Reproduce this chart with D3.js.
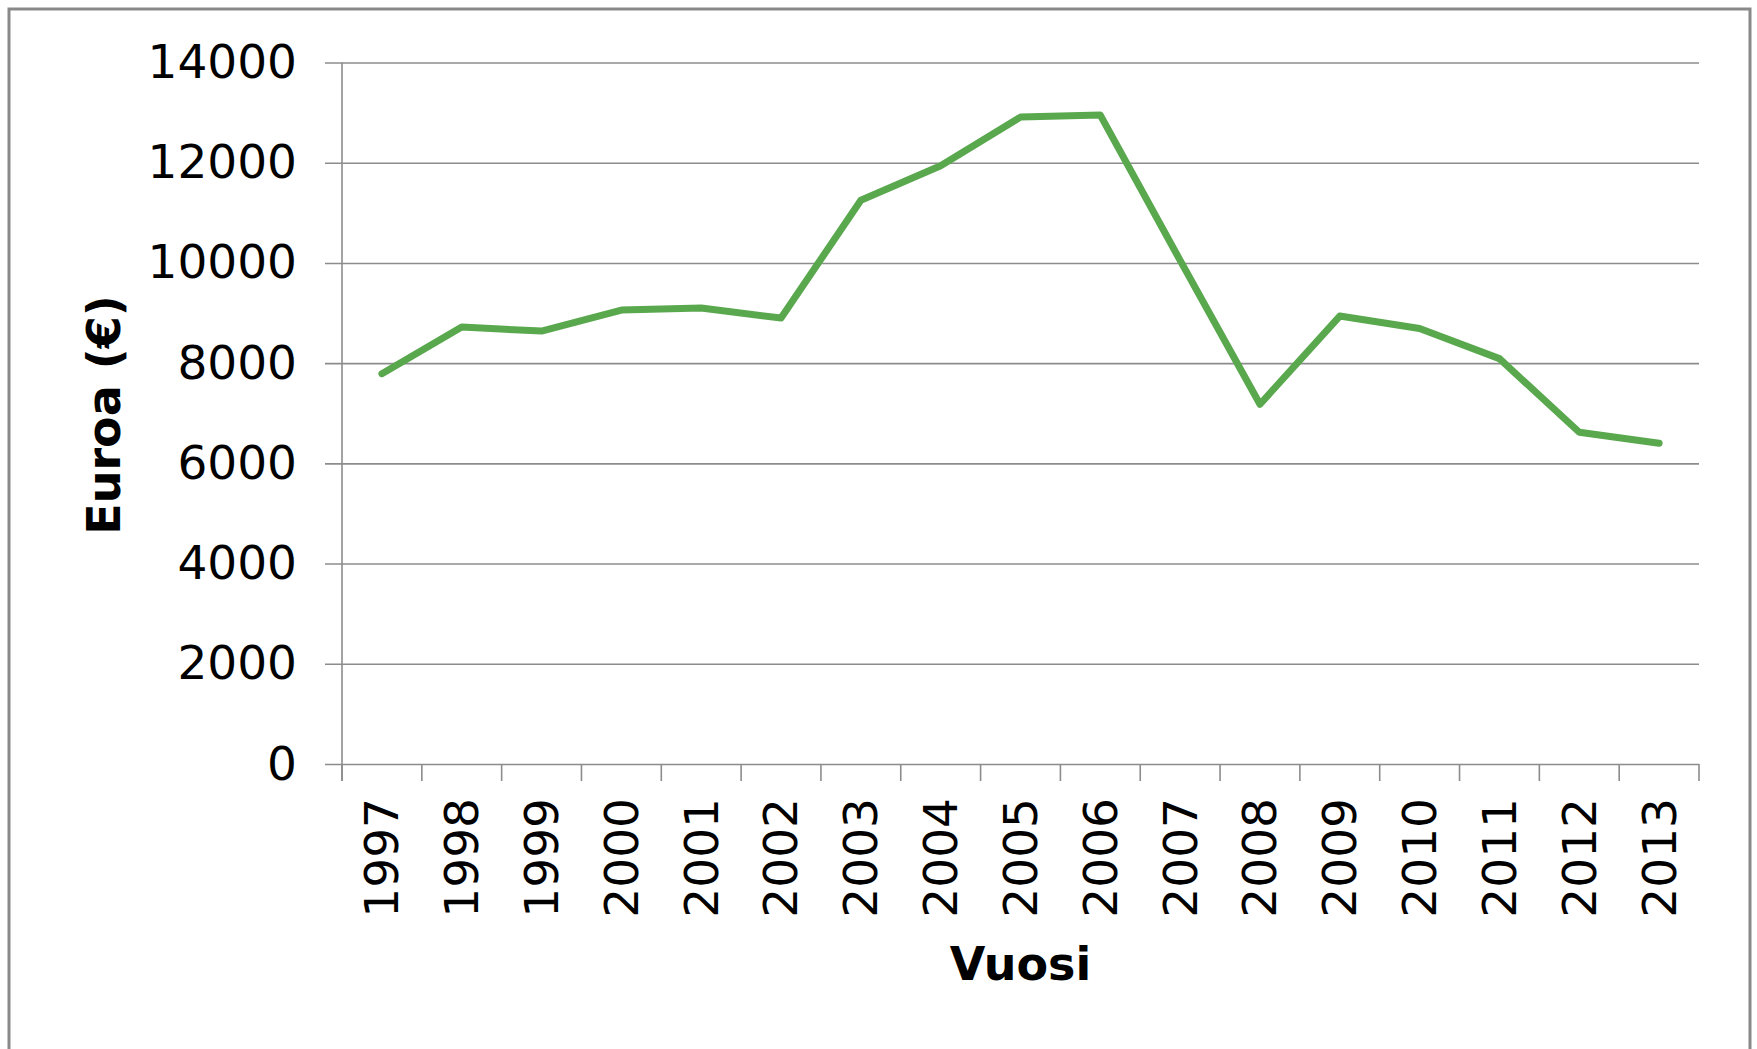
<!DOCTYPE html>
<html>
<head>
<meta charset="utf-8">
<script src="https://cdn.jsdelivr.net/npm/d3@7/dist/d3.min.js"></script>
<style>
  html, body { margin: 0; padding: 0; background: #fff; }
  svg { display: block; }
</style>
</head>
<body>
<script>
const years = ["1997","1998","1999","2000","2001","2002","2003","2004","2005","2006","2007","2008","2009","2010","2011","2012","2013"];
const values = [7790, 8720, 8640, 9060, 9100, 8900, 11250, 11940, 12910, 12950, 10050, 7180, 8940, 8690, 8090, 6620, 6400];
const yTicks = [0, 2000, 4000, 6000, 8000, 10000, 12000, 14000];
const xTitle = "Vuosi";
const yTitle = "Euroa (€)";

const W = 1757, H = 1049;
const plotL = 342, plotR = 1699, plotT = 62.5, plotB = 764;

const svg = d3.select("body").append("svg").attr("width", W).attr("height", H);

svg.append("rect")
  .attr("x", 9).attr("y", 9).attr("width", 1741).attr("height", 1060)
  .attr("fill", "#fff").attr("stroke", "#898989").attr("stroke-width", 3);

const x = d3.scaleBand().domain(years).range([plotL, plotR]).padding(0);
const y = d3.scaleLinear().domain([0, 14000]).range([plotB, plotT]);

const font = "'DejaVu Sans', Verdana, sans-serif";

// gridlines + y axis
const yAxis = d3.axisLeft(y).tickValues(yTicks).tickSize(17).tickPadding(28).tickFormat(d3.format("d"));
const gy = svg.append("g").attr("transform", `translate(${plotL},0)`).call(yAxis);
gy.select(".domain").remove();
gy.selectAll(".tick line").attr("stroke", "#8c8c8c").attr("stroke-width", 1.6)
  .attr("x2", -17).attr("x1", plotR - plotL);
gy.selectAll(".tick text").attr("font-family", font).attr("font-size", 47).attr("fill", "#000");

// vertical axis line
svg.append("line").attr("x1", plotL).attr("x2", plotL).attr("y1", plotT).attr("y2", plotB + 17)
  .attr("stroke", "#8c8c8c").attr("stroke-width", 1.6);

// x axis: tick marks at band boundaries
const bounds = years.map(d => x(d)).concat([x(years[years.length - 1]) + x.bandwidth()]);
svg.append("g").selectAll("line").data(bounds).join("line")
  .attr("x1", d => d).attr("x2", d => d).attr("y1", plotB).attr("y2", plotB + 17)
  .attr("stroke", "#8c8c8c").attr("stroke-width", 1.6);

// x labels
svg.append("g").selectAll("text").data(years).join("text")
  .attr("transform", d => `translate(${x(d) + x.bandwidth() / 2},798) rotate(-90)`)
  .attr("text-anchor", "end").attr("dy", "0.35em")
  .attr("font-family", font).attr("font-size", 47).attr("fill", "#000")
  .text(d => d);

// line
const line = d3.line().x((d, i) => x(years[i]) + x.bandwidth() / 2).y(d => y(d));
svg.append("path").datum(values).attr("d", line)
  .attr("fill", "none").attr("stroke", "#59a84d").attr("stroke-width", 7)
  .attr("stroke-linejoin", "round").attr("stroke-linecap", "round");

// titles
svg.append("text").attr("x", (plotL + plotR) / 2).attr("y", 980)
  .attr("text-anchor", "middle").attr("font-family", font).attr("font-weight", "bold")
  .attr("font-size", 46).attr("fill", "#000").text(xTitle);

svg.append("text").attr("transform", "translate(120,415) rotate(-90)")
  .attr("text-anchor", "middle").attr("font-family", font).attr("font-weight", "bold")
  .attr("font-size", 46).attr("fill", "#000").text(yTitle);
</script>
</body>
</html>
